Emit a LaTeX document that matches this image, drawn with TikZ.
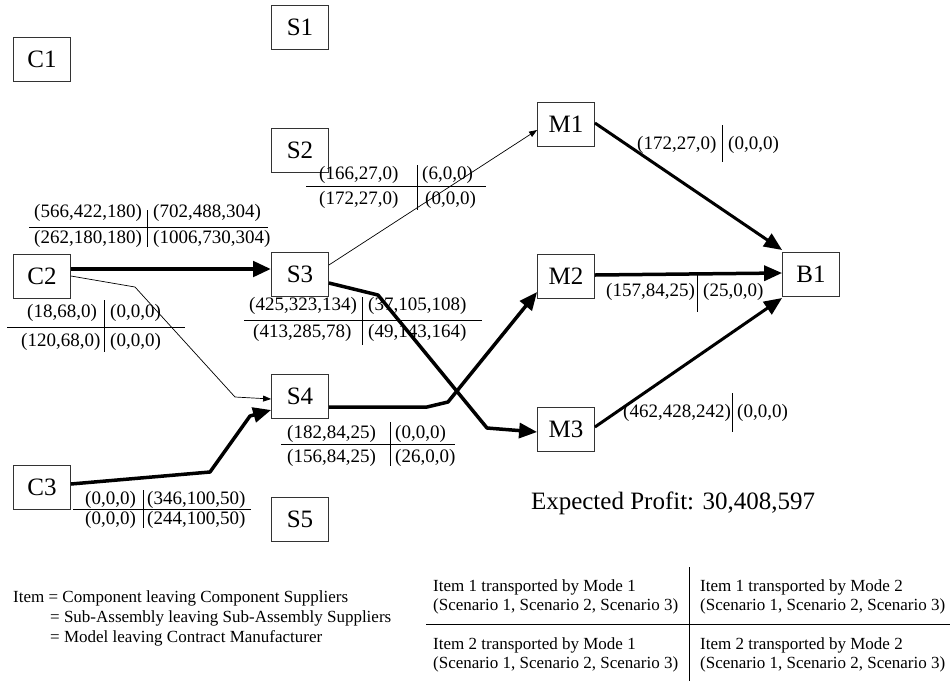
\documentclass[tikz,border=0pt]{standalone}
\usepackage{fontspec}
\setmainfont{Liberation Serif}
\usetikzlibrary{arrows.meta}

\begin{document}
\begin{tikzpicture}[x=1pt,y=-1pt,
  site/.style={draw=black!80,line width=0.8pt,minimum width=57pt,minimum height=44pt,inner sep=0pt,font=\fontsize{25}{28}\selectfont},
  flow/.style={font=\fontsize{19}{22}\selectfont,inner sep=0pt,anchor=west},
  note/.style={font=\fontsize{17}{19}\selectfont,inner sep=0pt,anchor=west,align=left},
  heavy/.style={line width=3.5pt,line join=round,-{Triangle[length=18pt,width=15pt]}},
  light/.style={line width=0.7pt,-{Triangle[length=8pt,width=6pt]}},
  rule/.style={line width=0.8pt}]

    \useasboundingbox (0,0) rectangle (950,681);

    % component suppliers
    \node[site] (C1) at (42,59) {C1};
    \node[site] (C2) at (42,276) {C2};
    \node[site] (C3) at (42,487) {C3};
    % sub-assembly suppliers
    \node[site] (S1) at (300,27) {S1};
    \node[site] (S2) at (300,150) {S2};
    \node[site] (S3) at (300,274) {S3};
    \node[site] (S4) at (300,396) {S4};
    \node[site] (S5) at (300,519) {S5};
    % contract manufacturers
    \node[site] (M1) at (566,124) {M1};
    \node[site] (M2) at (566,276) {M2};
    \node[site] (M3) at (566,429) {M3};
    % buyer
    \node[site] (B1) at (811,274) {B1};

    \draw[heavy, line width=4.5pt] ([yshift=7pt]C2.east) -- ([yshift=5pt]S3.west);
    \draw[light] (C2.east) -- (135,287) -- (235,397) -- ([yshift=-3pt]S4.west);
    \draw[heavy] ([yshift=3pt]C3.east) -- (210,472) -- (250,416) -- ([yshift=-14pt]S4.west);
    \draw[light] ([yshift=9pt]S3.east) -- ([yshift=-6pt]M1.west);
    \draw[heavy] ([yshift=-9pt]S3.east) -- (378,295) -- (487,428) -- ([yshift=-3pt]M3.west);
    \draw[heavy] ([yshift=-11pt]S4.east) -- (427,407) -- (448,402) -- ([yshift=-16pt]M2.west);
    \draw[heavy, line width=3pt] ([yshift=1pt]M1.east) -- ([yshift=24pt]B1.west);
    \draw[heavy] ([yshift=1pt]M2.east) -- ([yshift=1pt]B1.west);
    \draw[heavy, line width=3pt] ([yshift=2pt]M3.east) -- ([yshift=-24pt]B1.west);

    % C2 -> S3
    \node[flow] (a11) at (34,213) {(566,422,180)};
    \node[flow] (a12) at (153,213) {(702,488,304)};
    \node[flow] (a21) at (34,239) {(262,180,180)};
    \node[flow] (a22) at (153,239) {(1006,730,304)};
    \draw[rule] (29,227) -- (268,227) (147,210) -- (147,247);
    % C2 -> S4
    \node[flow] (b11) at (27,313) {(18,68,0)};
    \node[flow] (b12) at (110,313) {(0,0,0)};
    \node[flow] (b21) at (21,342) {(120,68,0)};
    \node[flow] (b22) at (110,342) {(0,0,0)};
    \draw[rule] (7,327) -- (185,327) (104,300) -- (104,352);
    % S3 -> M1
    \node[flow] (c11) at (319,175) {(166,27,0)};
    \node[flow] (c12) at (422,175) {(6,0,0)};
    \node[flow] (c21) at (319,200) {(172,27,0)};
    \node[flow] (c22) at (425,200) {(0,0,0)};
    \draw[rule] (306,186) -- (486,186) (417,165) -- (417,210);
    % S3 -> M3
    \node[flow] (d11) at (249,306) {(425,323,134)};
    \node[flow] (d12) at (368,306) {(37,105,108)};
    \node[flow] (d21) at (253,333) {(413,285,78)};
    \node[flow] (d22) at (368,333) {(49,143,164)};
    \draw[rule] (244,320) -- (482,320) (362,297) -- (362,345);
    % S4 -> M2
    \node[flow] (e11) at (287,434) {(182,84,25)};
    \node[flow] (e12) at (395,434) {(0,0,0)};
    \node[flow] (e21) at (287,458) {(156,84,25)};
    \node[flow] (e22) at (395,458) {(26,0,0)};
    \draw[rule] (281,444) -- (455,444) (390,422) -- (390,466);
    % C3 -> S4
    \node[flow] (f11) at (85,500) {(0,0,0)};
    \node[flow] (f12) at (147,500) {(346,100,50)};
    \node[flow] (f21) at (85,520) {(0,0,0)};
    \node[flow] (f22) at (147,520) {(244,100,50)};
    \draw[rule] (73,509) -- (251,509) (143,490) -- (143,528);
    % M -> B
    \node[flow] (g1) at (637,145) {(172,27,0)};
    \node[flow] (g2) at (728,145) {(0,0,0)};
    \draw[rule] (722,125) -- (722,162);
    \node[flow] (h1) at (606,292) {(157,84,25)};
    \node[flow] (h2) at (703,292) {(25,0,0)};
    \draw[rule] (697,273) -- (697,312);
    \node[flow] (i1) at (623,413) {(462,428,242)};
    \node[flow] (i2) at (737,413) {(0,0,0)};
    \draw[rule] (732,393) -- (732,432);

    \node[font=\fontsize{25}{30}\selectfont] (profit) at (673,503) {Expected Profit: 30,408,597};

    % legend
    \node[note] (item) at (13,598) {Item = Component leaving Component Suppliers};
    \node[note] (sub) at (50,618) {= Sub-Assembly leaving Sub-Assembly Suppliers};
    \node[note] (model) at (50,638) {= Model leaving Contract Manufacturer};

    \node[note] (k11) at (433,597) {Item 1 transported by Mode 1\\(Scenario 1, Scenario 2, Scenario 3)};
    \node[note] (k12) at (700,597) {Item 1 transported by Mode 2\\(Scenario 1, Scenario 2, Scenario 3)};
    \node[note] (k21) at (433,655) {Item 2 transported by Mode 1\\(Scenario 1, Scenario 2, Scenario 3)};
    \node[note] (k22) at (700,655) {Item 2 transported by Mode 2\\(Scenario 1, Scenario 2, Scenario 3)};
    \draw[rule] (426,624) -- (950,624) (689,567) -- (689,681);

\end{tikzpicture}
\end{document}
